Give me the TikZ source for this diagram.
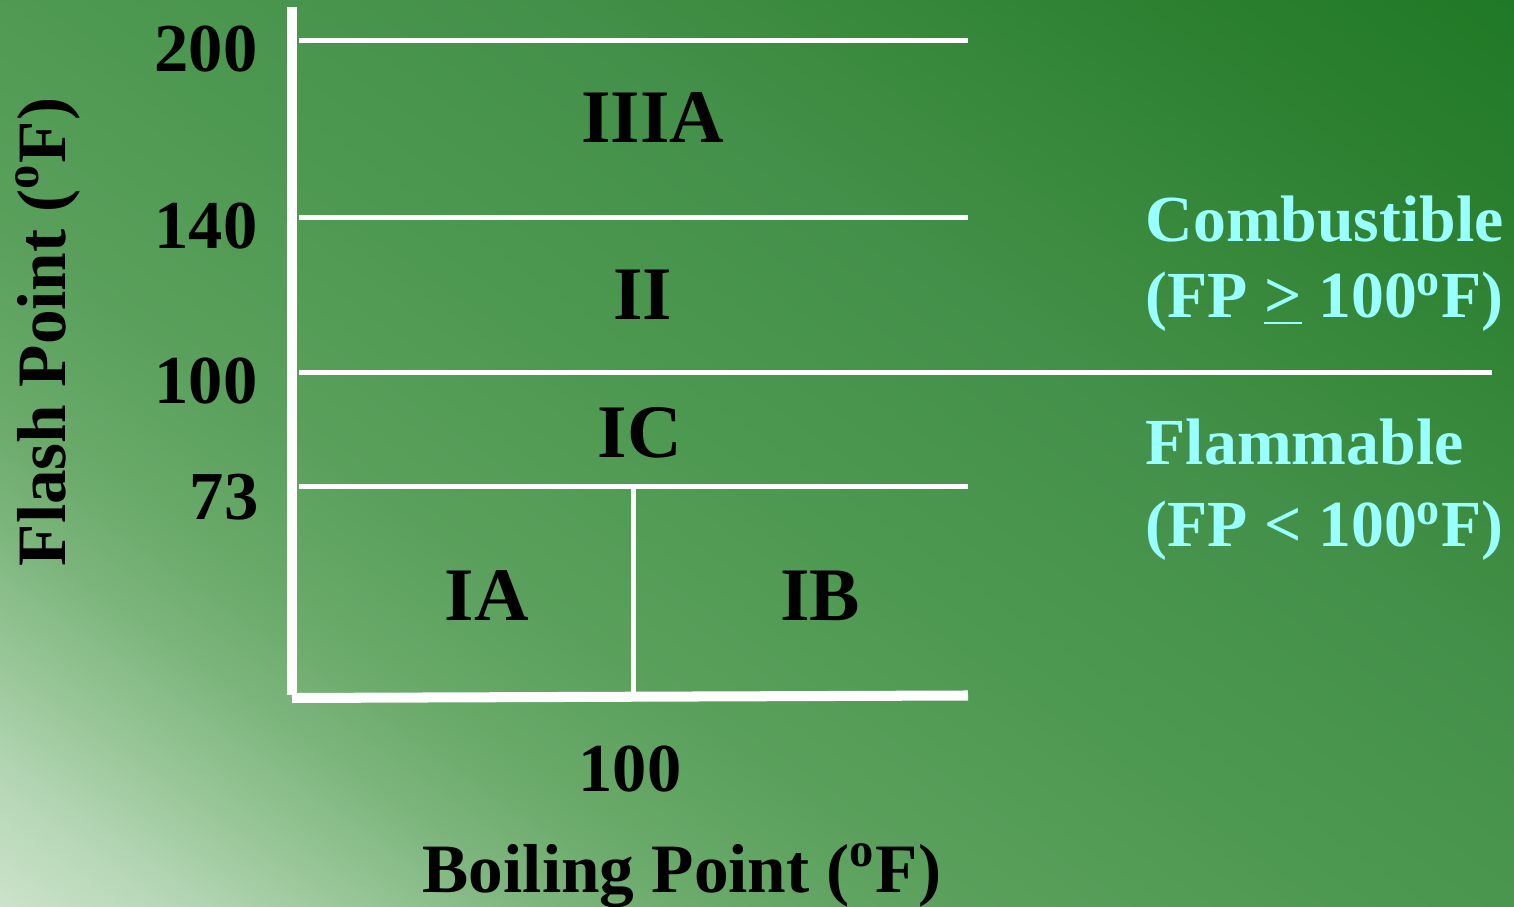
\documentclass[tikz,border=0pt]{standalone}
\usepackage{fontspec}
\setmainfont{Liberation Serif}
\definecolor{notecyan}{HTML}{99FFFF}
\definecolor{g0}{HTML}{D2E7D2}
\definecolor{g1}{HTML}{B5D6B5}
\definecolor{g2}{HTML}{98C698}
\definecolor{g3}{HTML}{7EB67E}
\definecolor{g4}{HTML}{6AAA6A}
\definecolor{g5}{HTML}{5AA05C}
\definecolor{g6}{HTML}{4C9850}
\definecolor{g7}{HTML}{43904A}
\definecolor{g8}{HTML}{3A8A3D}
\definecolor{g9}{HTML}{2C8030}
\definecolor{g10}{HTML}{1E7824}
\pgfdeclarehorizontalshading{bgshade}{100bp}{color(0bp)=(g0); color(29bp)=(g0); color(32.5bp)=(g1); color(35bp)=(g2); color(37.5bp)=(g3); color(40bp)=(g4); color(43.75bp)=(g5); color(50bp)=(g6); color(56.25bp)=(g7); color(60bp)=(g8); color(65bp)=(g9); color(71bp)=(g10); color(100bp)=(g10)}
\tikzset{
  axisline/.style={white, line width=2.85pt},
  gridline/.style={white, line width=1.42pt},
  ticklabel/.style={font=\fontsize{19.5}{22}\selectfont\bfseries, inner sep=0pt, anchor=east},
  classlabel/.style={font=\fontsize{21.5}{24}\selectfont\bfseries, inner sep=0pt},
  axislabel/.style={font=\fontsize{19.7}{22}\selectfont\bfseries, inner sep=0pt, anchor=base},
  notelabel/.style={font=\fontsize{18.7}{22}\selectfont\bfseries, text=notecyan, inner sep=0pt, anchor=base west},
}
\begin{document}
\begin{tikzpicture}[x=0.01cm, y=-0.01cm]
\useasboundingbox (0,0) rectangle (1514,907);
% background
\begin{scope}[y=0.01cm]
  \clip (0,-907) rectangle (1514,0);
  \shade[shading=bgshade, shading angle=55] (-243,-1453.5) rectangle (1757,546.5);
\end{scope}
% coordinates
\coordinate (vtop) at (292,7);
\coordinate (vbot) at (292,695);
\coordinate (hl) at (292,698);
\coordinate (hr) at (968,695.5);
\coordinate (a1) at (299,41);   \coordinate (b1) at (968,41);
\coordinate (a2) at (299,217.5);\coordinate (b2) at (968,217.5);
\coordinate (a3) at (299,373);  \coordinate (b3) at (1492,373);
\coordinate (a4) at (299,487);  \coordinate (b4) at (968,487);
\coordinate (d1) at (633.5,487);\coordinate (d2) at (633.5,693);
% axes and grid
\draw[axisline] (vtop) -- (vbot);
\draw[axisline] (hl) -- (hr);
\draw[gridline] (a1) -- (b1);
\draw[gridline] (a2) -- (b2);
\draw[gridline] (a3) -- (b3);
\draw[gridline] (a4) -- (b4);
\draw[gridline] (d1) -- (d2);
% tick labels
\node[ticklabel] (t200) at (258,49) {200};
\node[ticklabel] (t140) at (258,226) {140};
\node[ticklabel] (t100) at (258,381) {100};
\node[ticklabel] (t73) at (259,497) {73};
\node[ticklabel, anchor=center] (bp100) at (630,769.5) {100};
% class labels
\node[classlabel] (c3a) at (653,118) {IIIA};
\node[classlabel] (c2) at (643,295) {II};
\node[classlabel] (c1c) at (640,433) {IC};
\node[classlabel] (c1a) at (487,596) {IA};
\node[classlabel] (c1b) at (820,596) {IB};
% axis labels
\node[axislabel] (xlab) at (682,893) {Boiling Point (\textsuperscript{o}F)};
\node[axislabel, rotate=90] (ylab) at (65,332) {Flash Point (\textsuperscript{o}F)};
% notes
\node[notelabel] (comb) at (1145,242) {Combustible};
\node[notelabel] (combfp) at (1145,318) {(FP \underline{>} 100\textsuperscript{o}F)};
\node[notelabel] (flam) at (1145,465) {Flammable};
\node[notelabel] (flamfp) at (1145,547) {(FP < 100\textsuperscript{o}F)};
\end{tikzpicture}
\end{document}
